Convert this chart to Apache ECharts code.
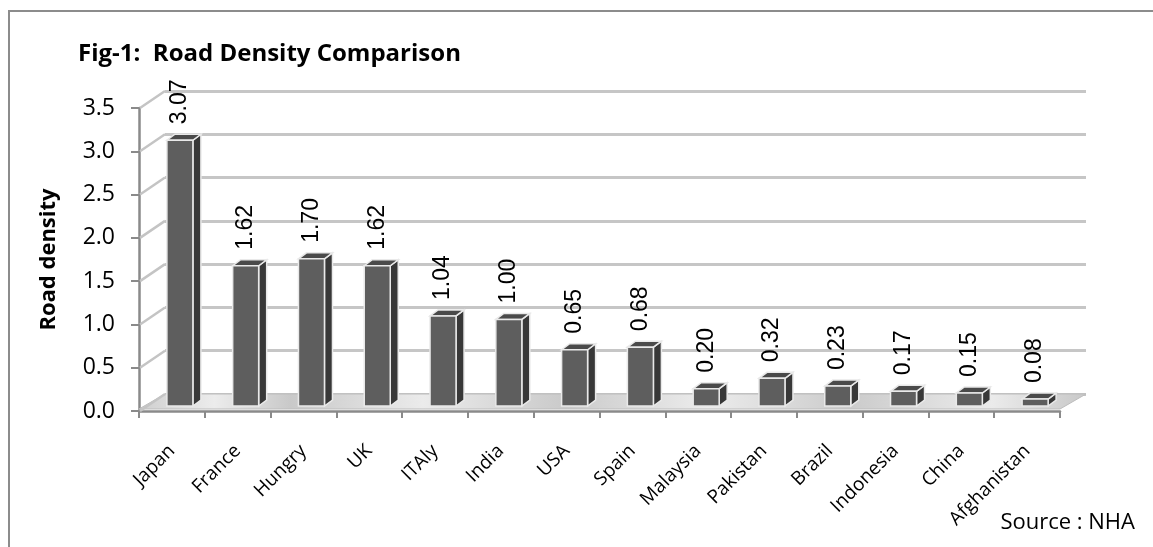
<!DOCTYPE html>
<html>
<head>
<meta charset="utf-8">
<title>Fig-1: Road Density Comparison</title>
<script src="https://cdn.jsdelivr.net/npm/echarts@6/dist/echarts.min.js"></script>
<style>
  html, body { margin: 0; padding: 0; background: #ffffff; }
  #chart { width: 1153px; height: 547px; }
</style>
</head>
<body>
<div id="chart"></div>
<script>
// Road density by country
const categories = ['Japan', 'France', 'Hungry', 'UK', 'ITAly', 'India', 'USA', 'Spain',
  'Malaysia', 'Pakistan', 'Brazil', 'Indonesia', 'China', 'Afghanistan'];
const densities = [3.07, 1.62, 1.70, 1.62, 1.04, 1.00, 0.65, 0.68, 0.20, 0.32, 0.23, 0.17, 0.15, 0.08];
const yTickValues = [0, 0.5, 1.0, 1.5, 2.0, 2.5, 3.0, 3.5];

const Y_MIN = 0, Y_MAX = 3.5, Y_STEP = 0.5;

// pseudo-3D geometry (pixels)
const WALL_DX = 26, WALL_DY = 17;      // depth of back wall relative to front axes
const BAR_SHIFT_X = 8, BAR_SHIFT_Y = 5; // bar placement inside the depth
const BAR_W = 26;                       // front face width
const BAR_DX = 8, BAR_DY = 6;           // bar depth

const GRID_LEFT = 139, GRID_RIGHT = 93, GRID_TOP = 108, GRID_BOTTOM = 136;

const chart = echarts.init(document.getElementById('chart'));

function renderBar(params, api) {
  const i = api.value(0);
  const v = api.value(1);
  const base = api.coord([i, 0]);
  const top = api.coord([i, v]);
  const cx = base[0] + BAR_SHIFT_X;
  const by = base[1] - BAR_SHIFT_Y;
  const ty = top[1] - BAR_SHIFT_Y;
  const x0 = cx - BAR_W / 2, x1 = cx + BAR_W / 2;
  const edge = { stroke: '#e9e9e9', lineWidth: 1.5 };
  return {
    type: 'group',
    children: [
      {
        type: 'polygon',
        shape: { points: [[x1, ty], [x1 + BAR_DX, ty - BAR_DY], [x1 + BAR_DX, by - BAR_DY], [x1, by]] },
        style: Object.assign({ fill: '#383838' }, edge)
      },
      {
        type: 'polygon',
        shape: { points: [[x0, ty], [x0 + BAR_DX, ty - BAR_DY], [x1 + BAR_DX, ty - BAR_DY], [x1, ty]] },
        style: Object.assign({ fill: '#4a4a4a' }, edge)
      },
      {
        type: 'rect',
        shape: { x: x0, y: ty, width: BAR_W, height: by - ty },
        style: Object.assign({ fill: '#5e5e5e' }, edge)
      },
      {
        type: 'text',
        x: cx,
        y: ty - BAR_DY - 10,
        rotation: Math.PI / 2,
        style: {
          text: v.toFixed(2),
          fill: '#000000',
          font: '23px "Liberation Sans", Arial, sans-serif',
          align: 'left',
          verticalAlign: 'middle'
        }
      }
    ]
  };
}

// left wall edges and floor, placed from the value axis ticks
function renderWalls(params, api) {
  const v = api.value(0);
  const p = api.coord([0, v]);
  const half = api.size([1, 0])[0] / 2;
  const leftX = p[0] - half;
  const children = [{
    type: 'line',
    shape: { x1: leftX + 1, y1: p[1], x2: leftX + WALL_DX, y2: p[1] - WALL_DY },
    style: { stroke: '#c4c4c4', lineWidth: 2.5 }
  }];
  if (v === Y_MIN) {
    const rightX = api.coord([categories.length - 1, 0])[0] + half;
    const y0 = p[1] - 2;
    children.unshift({
      type: 'polygon',
      shape: { points: [[leftX, y0], [rightX, y0], [rightX + WALL_DX, y0 - WALL_DY + 2], [leftX + WALL_DX, y0 - WALL_DY + 2]] },
      style: {
        fill: new echarts.graphic.LinearGradient(0, 0, 1, 0, [
          { offset: 0, color: '#cfcfcf' }, { offset: 0.08, color: '#ececec' },
          { offset: 0.16, color: '#c9c9c9' }, { offset: 0.3, color: '#ebebeb' },
          { offset: 0.45, color: '#cacaca' }, { offset: 0.6, color: '#ececec' },
          { offset: 0.75, color: '#cbcbcb' }, { offset: 0.9, color: '#ebebeb' },
          { offset: 1, color: '#c8c8c8' }
        ]),
        stroke: '#bdbdbd',
        lineWidth: 1
      }
    });
  }
  return { type: 'group', children: children };
}

const axisFont = '"Open Sans", "Liberation Sans", sans-serif';

const option = {
  backgroundColor: '#ffffff',
  animation: false,
  title: {
    text: 'Fig-1:  Road Density Comparison',
    left: 73,
    top: 37,
    textStyle: { fontFamily: axisFont, fontSize: 24, fontWeight: 'bold', color: '#000000' }
  },
  graphic: [
    {
      type: 'polyline',
      shape: { points: [[9, 547], [9, 11], [1153, 11]] },
      style: { stroke: '#8c8c8c', lineWidth: 2, fill: null },
      silent: true
    },
    {
      type: 'text',
      right: 18,
      top: 512,
      style: { text: 'Source : NHA', font: '22px ' + axisFont, fill: '#000000' }
    }
  ],
  grid: [
    { left: GRID_LEFT, right: GRID_RIGHT, top: GRID_TOP, bottom: GRID_BOTTOM },
    { left: GRID_LEFT + WALL_DX, right: GRID_RIGHT - WALL_DX, top: GRID_TOP - WALL_DY, bottom: GRID_BOTTOM + WALL_DY }
  ],
  xAxis: [
    {
      type: 'category',
      gridIndex: 0,
      data: categories,
      boundaryGap: true,
      axisLine: { lineStyle: { color: '#8a8a8a', width: 2.5 } },
      axisTick: { show: true, length: 7, lineStyle: { color: '#8a8a8a', width: 2 } },
      axisLabel: {
        rotate: 45,
        margin: 37,
        interval: 0,
        fontFamily: axisFont,
        fontSize: 19,
        color: '#000000'
      },
      splitLine: { show: false }
    },
    {
      type: 'category',
      gridIndex: 1,
      data: categories,
      show: false
    }
  ],
  yAxis: [
    {
      type: 'value',
      gridIndex: 0,
      min: Y_MIN,
      max: Y_MAX,
      interval: Y_STEP,
      name: 'Road density',
      nameLocation: 'middle',
      nameGap: 79,
      nameRotate: 90,
      nameTextStyle: { fontFamily: axisFont, fontSize: 22, fontWeight: 'bold', color: '#000000' },
      axisLine: { show: true, lineStyle: { color: '#8a8a8a', width: 2.5 } },
      axisTick: { show: true, length: 8, lineStyle: { color: '#8a8a8a', width: 2 } },
      axisLabel: {
        margin: 24,
        fontFamily: axisFont,
        fontSize: 23,
        color: '#000000',
        formatter: function (val) { return val.toFixed(1); }
      },
      splitLine: { show: false }
    },
    {
      type: 'value',
      gridIndex: 1,
      min: Y_MIN,
      max: Y_MAX,
      interval: Y_STEP,
      axisLine: { show: false },
      axisTick: { show: false },
      axisLabel: { show: false },
      splitLine: { show: true, lineStyle: { color: '#c6c6c6', width: 3 } }
    }
  ],
  series: [
    {
      type: 'custom',
      name: 'walls',
      xAxisIndex: 0,
      yAxisIndex: 0,
      z: 1,
      silent: true,
      data: yTickValues.map(function (v) { return [v]; }),
      encode: { y: 0 },
      renderItem: renderWalls
    },
    {
      type: 'custom',
      name: 'Road density',
      xAxisIndex: 0,
      yAxisIndex: 0,
      z: 3,
      data: densities.map(function (v, i) { return [i, v]; }),
      encode: { x: 0, y: 1 },
      renderItem: renderBar
    }
  ]
};

chart.setOption(option);
</script>
</body>
</html>
